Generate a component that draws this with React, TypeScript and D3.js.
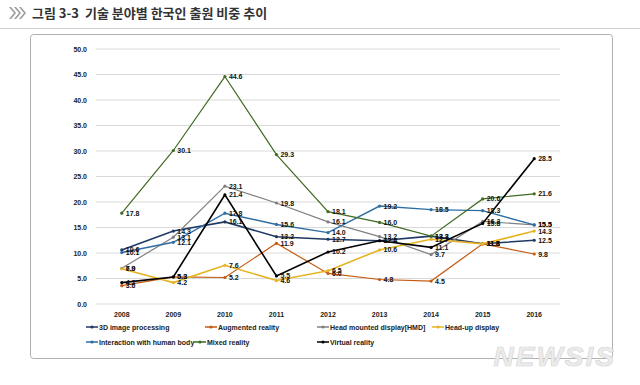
import React from "react";
import * as d3 from "d3";

const years = ["2008", "2009", "2010", "2011", "2012", "2013", "2014", "2015", "2016"];
const yTicks = [0, 5, 10, 15, 20, 25, 30, 35, 40, 45, 50];

const image3d = [10.6, 14.3, 16.1, 13.2, 12.7, 12.4, 13.3, 11.8, 12.5];
const augmented = [3.6, 5.3, 5.2, 11.9, 6.0, 4.8, 4.5, 11.8, 9.8];
const hmd = [7.0, 13.1, 23.1, 19.8, 16.1, 13.2, 9.7, 16.2, 15.5];
const hud = [6.9, 4.2, 7.6, 4.6, 6.5, 10.6, 12.7, 11.8, 14.3];
const interaction = [10.1, 12.1, 17.8, 15.6, 14.0, 19.2, 18.5, 18.3, 15.5];
const mixed = [17.8, 30.1, 44.6, 29.3, 18.1, 16.0, 13.3, 20.6, 21.6];
const virtual = [4.2, 5.3, 21.4, 5.5, 10.2, 12.4, 11.1, 15.8, 28.5];

const seriesNames = [
  "3D image processing",
  "Augmented reality",
  "Head mounted display[HMD]",
  "Head-up display",
  "Interaction with human body",
  "Mixed reality",
  "Virtual reality",
];

const series = [
  { name: seriesNames[0], values: image3d, color: "#1f3864", w: 1.6 },
  { name: seriesNames[1], values: augmented, color: "#c55a11", w: 1.2 },
  { name: seriesNames[2], values: hmd, color: "#808080", w: 1.2 },
  { name: seriesNames[3], values: hud, color: "#e6b422", w: 1.6 },
  { name: seriesNames[4], values: interaction, color: "#2e6da4", w: 1.4 },
  { name: seriesNames[5], values: mixed, color: "#3f6b22", w: 1.2 },
  { name: seriesNames[6], values: virtual, color: "#000000", w: 1.6 },
];

const legendPos = [
  [86, 327], [205, 327], [317, 327], [432, 327],
  [86, 342], [194, 342], [317, 342],
];

export default function App() {
  const W = 640, H = 385;
  const x = d3.scaleBand<string>().domain(years).range([96, 560]);
  const y = d3.scaleLinear().domain([0, 50]).range([304, 49]);
  const cx = (i: number) => (x(years[i]) as number) + x.bandwidth() / 2;
  const line = d3.line<number>().x((_, i) => cx(i)).y((v) => y(v));
  const font = "'Liberation Sans', Arial, sans-serif";

  return (
    <svg width={W} height={H} style={{ position: "absolute", left: 0, top: 0, background: "#fff" }}>
      {/* title */}
      <g fill="#9a9a9a">
        {[0, 5, 10].map((o) => (
          <path key={o} d={`M${9 + o},7 L${14 + o},13 L${9 + o},19 L${11 + o},19 L${16 + o},13 L${11 + o},7 Z`} />
        ))}
      </g>
      <text x={32} y={18} fontFamily="'Noto Sans CJK KR', sans-serif" fontSize={13} fontWeight={700} fill="#333"
        style={{ whiteSpace: "pre" }}>
        {"그림 3-3  기술 분야별 한국인 출원 비중 추이"}
      </text>
      <line x1={0} x2={640} y1={28.5} y2={28.5} stroke="#d0d0d0" />
      {/* frame */}
      <rect x={30.5} y={34.5} width={582} height={324} rx={3} fill="none" stroke="#b0b0b0" />

      {/* grid */}
      {yTicks.map((t) => (
        <g key={t}>
          <line x1={96} x2={560} y1={y(t)} y2={y(t)} stroke="#d9d9d9" strokeWidth={1} />
          <text x={87} y={y(t) + 2.5} textAnchor="end" fontFamily={font} fontSize={7} fontWeight={700} fill="#222">
            {t.toFixed(1)}
          </text>
        </g>
      ))}
      {years.map((yr, i) => (
        <text key={yr} x={cx(i)} y={317} textAnchor="middle" fontFamily={font} fontSize={7} fontWeight={700} fill="#222">
          {yr}
        </text>
      ))}

      {/* lines */}
      {series.map((s) => (
        <g key={s.name}>
          <path d={line(s.values) || ""} fill="none" stroke={s.color} strokeWidth={s.w} />
          {s.values.map((v, i) => (
            <circle key={i} cx={cx(i)} cy={y(v)} r={1.6} fill={s.color} />
          ))}
        </g>
      ))}
      {/* data labels */}
      {series.map((s) => (
        <g key={s.name + "l"}>
          {s.values.map((v, i) => (
            <text key={i} x={cx(i) + 4} y={y(v) + 2.5} fontFamily={font} fontSize={7} fontWeight={700} fill="#111">
              {v.toFixed(1)}
            </text>
          ))}
        </g>
      ))}

      {/* legend */}
      {series.map((s, i) => {
        const [lx, ly] = legendPos[i];
        return (
          <g key={s.name + "lg"}>
            <line x1={lx} x2={lx + 12} y1={ly} y2={ly} stroke={s.color} strokeWidth={1.5} />
            <circle cx={lx + 6} cy={ly} r={1.6} fill={s.color} />
            <text x={lx + 13} y={ly + 2.5} fontFamily={font} fontSize={7} fontWeight={700} fill="#222">
              {s.name}
            </text>
          </g>
        );
      })}

      {/* watermark */}
      <text x={616} y={366} textAnchor="end" fontFamily={font} fontSize={28} fontWeight={700} fontStyle="italic"
        fill="#ececec" stroke="#d6d6d6" strokeWidth={0.7} letterSpacing={2}>
        NEWSIS
      </text>
    </svg>
  );
}
